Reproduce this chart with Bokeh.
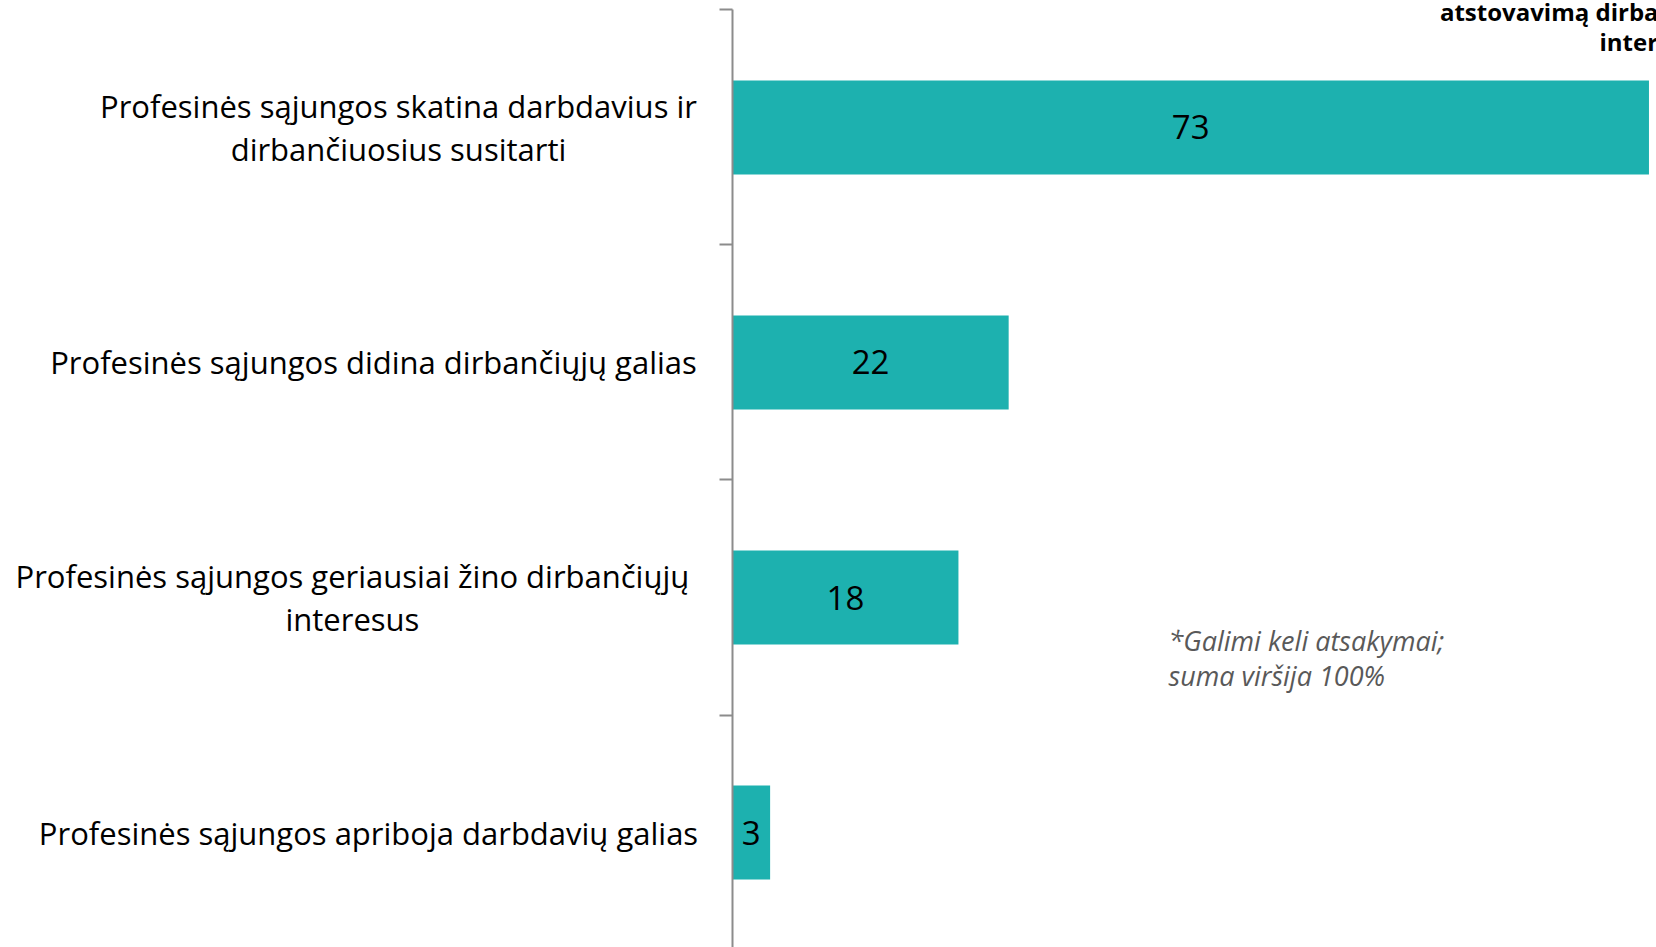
from bokeh.plotting import figure
from bokeh.models import FixedTicker, Label, Range1d, ColumnDataSource
from bokeh.embed import file_html
from bokeh.resources import INLINE
from bokeh.core.properties import value

# ---- data ----
categories = [
    "Profesinės sąjungos skatina darbdavius ir\ndirbančiuosius susitarti",
    "Profesinės sąjungos didina dirbančiųjų galias",
    "Profesinės sąjungos geriausiai žino dirbančiųjų\ninteresus",
    "Profesinės sąjungos apriboja darbdavių galias",
]
values = [73, 22, 18, 3]
value_labels = ["73", "22", "18", "3"]
footnote_lines = ["*Galimi keli atsakymai;", "suma viršija 100%"]
title_lines = ["atstovavimą dirbančiųjų", "interesams"]

BAR = "#1DB1AF"
AXIS = "#8C8C8C"
FONT = "Open Sans"

n = len(categories)
ys = [n - 0.5 - i for i in range(n)]
src = ColumnDataSource(dict(
    y=ys, v=values, half=[v / 2 for v in values], lab=value_labels))

p = figure(width=1656, height=947,
           x_range=Range1d(-58.30, 73.6), y_range=Range1d(0.011, n + 0.040),
           min_border_left=0, min_border_right=0,
           min_border_top=0, min_border_bottom=0,
           x_axis_location=None, y_axis_location="left",
           toolbar_location=None, output_backend="svg")
p.outline_line_color = None
p.xgrid.visible = False
p.ygrid.visible = False
p.background_fill_color = "white"
p.border_fill_color = "white"

p.hbar(y="y", right="v", left=0, height=0.4, source=src,
       fill_color=BAR, line_color=None)

p.text(x="half", y="y", text="lab", source=src,
       text_align="center", text_baseline="middle",
       text_font=value(FONT), text_font_size="33px", text_color="black")

# category axis sitting at x = 0, ticks on the category boundaries
ax = p.yaxis[0]
ax.fixed_location = 0
ax.bounds = (0, n)
ax.ticker = FixedTicker(ticks=[], minor_ticks=list(range(n + 1)))
ax.major_tick_out = 0
ax.major_tick_in = 0
ax.minor_tick_out = 13
ax.minor_tick_in = 0
ax.minor_tick_line_color = AXIS
ax.minor_tick_line_width = 2
ax.axis_line_color = AXIS
ax.axis_line_width = 2

# category labels: block right of the axis, lines centred (as in the original)
label_centers = [-26.60, -28.59, -30.27, -28.99]
for cat, yy, xc in zip(categories, ys, label_centers):
    p.add_layout(Label(x=xc, y=yy, text=cat, text_font=FONT,
                       text_font_size="31px", text_color="black",
                       text_align="center", text_baseline="middle",
                       text_line_height=1.03))

# footnote
for line, yy in zip(footnote_lines, [1.317, 1.168]):
    p.add_layout(Label(x=34.73, y=yy, text=line, text_font=FONT,
                       text_font_style="italic", text_font_size="27px",
                       text_color="#595959", text_baseline="alphabetic"))

# partially visible title (cut off at the right edge, as in the original)
for line, xx, yy in zip(title_lines, [56.35, 69.06], [3.993, 3.865]):
    p.add_layout(Label(x=xx, y=yy, text=line, text_font=FONT,
                       text_font_style="bold", text_font_size="24px",
                       text_color="black", text_baseline="alphabetic"))

open("out.html", "w").write(file_html(p, INLINE))
